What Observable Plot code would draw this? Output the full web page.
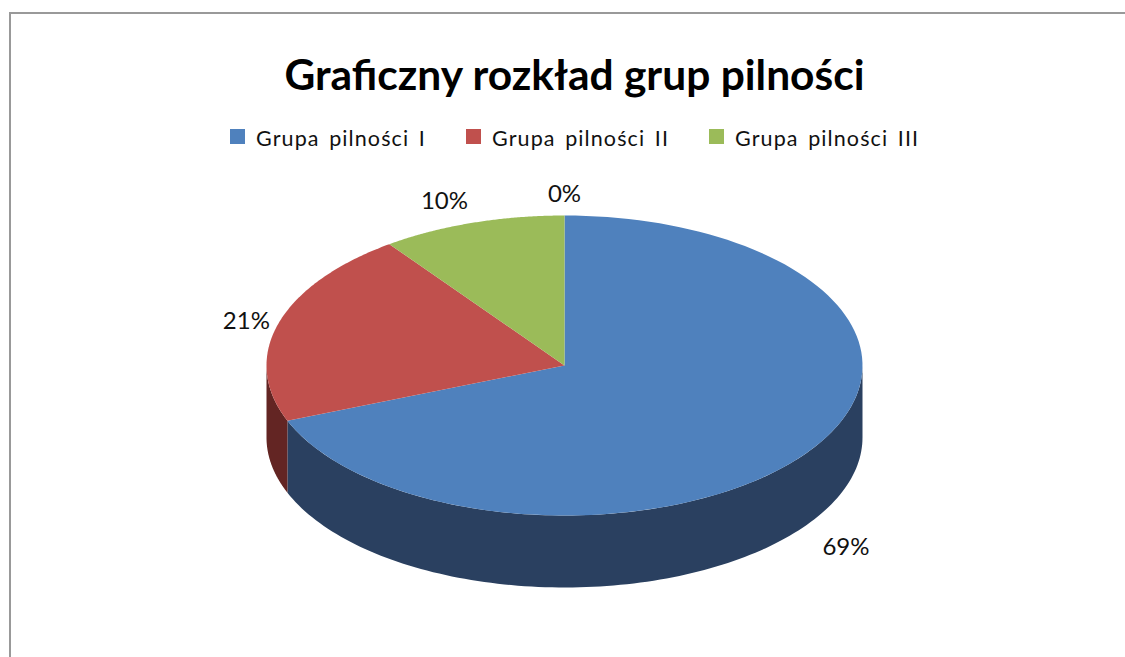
<!DOCTYPE html>
<html lang="pl">
<head>
<meta charset="utf-8">
<script src="https://cdn.jsdelivr.net/npm/d3@7"></script>
<script src="https://cdn.jsdelivr.net/npm/@observablehq/plot@0.6"></script>
<style>
  html, body { margin: 0; padding: 0; background: #fff; overflow: hidden; }
  #page { position: relative; width: 1125px; height: 657px; font-family: Lato, "Open Sans", sans-serif; color: #000; }
  #frame { position: absolute; left: 9px; top: 12px; right: 0; bottom: 0; border-top: 2px solid #999; border-left: 2px solid #999; pointer-events: none; }
  #head { position: absolute; left: 0; top: 0; width: 1125px; height: 170px; }
  #title { position: absolute; left: 0; width: 1149px; top: 47px; text-align: center; font-size: 42.5px; line-height: 54px; font-weight: 700; white-space: nowrap; }
  .lg { position: absolute; top: 124px; font-size: 21.5px; line-height: 28px; white-space: nowrap; color: #111; word-spacing: 3px; letter-spacing: 1.1px; }
  .lg i { position: absolute; top: 5px; left: -26px; width: 15px; height: 15px; }
  #chart { position: absolute; left: 0; top: 170px; }
  #chart text { font-family: Lato, "Open Sans", sans-serif; }
</style>
</head>
<body>
<div id="page">
  <div id="head">
    <div id="title"></div>
    <div id="legend"></div>
  </div>
  <div id="chart"></div>
  <div id="frame"></div>
</div>
<script>
const titleText = "Graficzny rozkład grup pilności";
const categories = ["Grupa pilności I", "Grupa pilności II", "Grupa pilności III", "Grupa pilności IV"];
const values = [69, 21, 10, 0];
const labels = ["69%", "21%", "10%", "0%"];
const topColors = ["#4f81bd", "#c0504d", "#9bbb59", "#8064a2"];
const wallColors = ["#2a4060", "#632523", "#4f6228", "#403152"];
const legendCount = 3;

// Title and legend
document.getElementById("title").textContent = titleText;
const legendLeft = [256, 492, 735];
const legend = document.getElementById("legend");
categories.slice(0, legendCount).forEach((c, i) => {
  const el = document.createElement("div");
  el.className = "lg";
  el.style.left = legendLeft[i] + "px";
  el.innerHTML = `<i style="background:${topColors[i]}"></i>`;
  el.append(c);
  legend.append(el);
});

// Pie geometry in unit coordinates; the scales map it to the tilted ellipse.
const depth = 0.48;
const total = d3.sum(values);
let acc = 0;
const slices = categories.map((c, i) => {
  const a0 = acc / total * 2 * Math.PI;
  acc += values[i];
  return { c, i, a0, a1: acc / total * 2 * Math.PI, label: labels[i] };
});
const px = a => Math.sin(a), py = a => Math.cos(a);
const arc = (a0, a1) => d3.range(0, 121).map(k => a0 + (a1 - a0) * k / 120);

const tops = [], walls = [];
for (const s of slices) {
  if (s.a1 <= s.a0) continue;
  tops.push({ key: s.c, x: 0, y: 0 });
  for (const a of arc(s.a0, s.a1)) tops.push({ key: s.c, x: px(a), y: py(a) });
  // the side wall is visible on the near half of the rim only
  const w0 = Math.max(s.a0, Math.PI / 2), w1 = Math.min(s.a1, 3 * Math.PI / 2);
  if (w1 > w0) {
    const key = s.c + " wall";
    for (const a of arc(w0, w1)) walls.push({ key, x: px(a), y: py(a) });
    for (const a of arc(w1, w0)) walls.push({ key, x: px(a), y: py(a) - depth });
  }
}

const colorDomain = [...categories, ...categories.map(c => c + " wall")];
const colorRange = [...topColors, ...wallColors];

// label anchors sit on the rim at each slice's middle angle; nudges place the text outside
const nudges = [
  { dx: 35, dy: 97 },
  { dx: -32, dy: -2 },
  { dx: -28, dy: -22 },
  { dx: 0, dy: -21 }
];
const labelMarks = slices.map((s, i) => {
  const mid = (s.a0 + s.a1) / 2;
  return Plot.text([s], {
    x: () => px(mid), y: () => py(mid), text: "label",
    dx: nudges[i].dx, dy: nudges[i].dy,
    fontSize: 24, fill: "#111"
  });
});

const plot = Plot.plot({
  width: 1125,
  height: 487,
  margin: 0,
  x: { domain: [-1, 1], range: [266, 862], axis: null },
  y: { domain: [-1, 1], range: [345, 45], axis: null },
  color: { domain: colorDomain, range: colorRange, type: "ordinal" },
  marks: [
    Plot.line(walls, { x: "x", y: "y", z: "key", fill: "key", stroke: "none", curve: "linear" }),
    Plot.line(tops, { x: "x", y: "y", z: "key", fill: "key", stroke: "none", curve: "linear" }),
    ...labelMarks
  ]
});
plot.style.background = "transparent";
document.getElementById("chart").append(plot);
</script>
</body>
</html>
